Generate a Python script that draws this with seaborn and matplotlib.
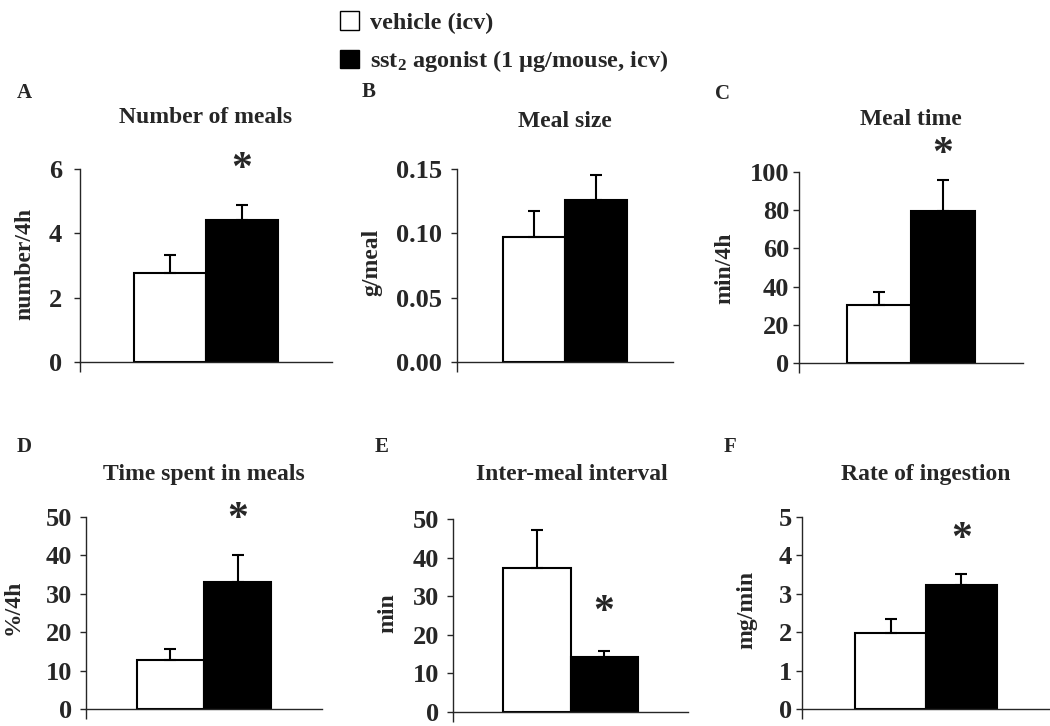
import numpy as np
import pandas as pd
import matplotlib
matplotlib.use("Agg")
import matplotlib.pyplot as plt
import seaborn as sns
from matplotlib.patches import Patch

# datos: media y error estandar (solo hacia arriba)
letters = ["A", "B", "C", "D", "E", "F"]
titles = ["Number of meals", "Meal size", "Meal time",
          "Time spent in meals", "Inter-meal interval", "Rate of ingestion"]
ylabels = ["number/4h", "g/meal", "min/4h", "%/4h", "min", "mg/min"]
groups = ["vehicle (icv)", "sst$_2$ agonist (1 µg/mouse, icv)"]
vehicle_mean = [2.78, 0.097, 30.4, 12.8, 37.4, 1.97]
vehicle_sem = [0.56, 0.020, 6.9, 2.7, 9.7, 0.38]
agonist_mean = [4.41, 0.126, 79.6, 33.2, 14.2, 3.23]
agonist_sem = [0.48, 0.019, 16.4, 6.8, 1.7, 0.29]
y_max = [6, 0.15, 100, 50, 50, 5]
y_step = [2, 0.05, 20, 10, 10, 1]
tick_fmt = ["{:.0f}", "{:.2f}", "{:.0f}", "{:.0f}", "{:.0f}", "{:.0f}"]
star_y = [5.96, None, 108.9, 49.2, 25.7, 4.4]  # asterisco de significancia

# tabla larga para seaborn
rows = []
for i, t in enumerate(titles):
    rows.append({"panel": t, "group": groups[0], "value": vehicle_mean[i], "sem": vehicle_sem[i]})
    rows.append({"panel": t, "group": groups[1], "value": agonist_mean[i], "sem": agonist_sem[i]})
df = pd.DataFrame(rows)

sns.set_style("ticks")
plt.rcParams["font.family"] = ["Liberation Serif", "DejaVu Serif"]
plt.rcParams["font.weight"] = "bold"
plt.rcParams["axes.labelweight"] = "bold"
plt.rcParams["mathtext.fontset"] = "custom"
plt.rcParams["mathtext.rm"] = "Liberation Serif:bold"
plt.rcParams["mathtext.it"] = "Liberation Serif:bold"

W, H = 1050, 726
fig = plt.figure(figsize=(W / 100, H / 100), dpi=100)

# posiciones en pixeles (izq, arriba, der, abajo) de cada panel
boxes = [(80, 169, 332, 362), (457, 169, 673, 362), (799, 172, 1023, 363),
         (86, 517, 322, 709), (453, 519, 688, 712), (802, 517, 1050, 709)]
title_pos = [(206, 123), (565, 127), (911, 125), (204, 480), (572, 480), (926, 480)]
letter_pos = [(17, 98), (362, 97), (715, 99), (17, 452), (375, 452), (724, 452)]
ylabel_pos = [(25, 264), (372, 262), (725, 268), (13, 607), (388, 613), (747, 610)]
tick_pad = [9, 7, 3, 6, 6, 3]

fs = 17
for i, t in enumerate(titles):
    l, tp, r, b = boxes[i]
    ax = fig.add_axes([l / W, 1 - b / H, (r - l) / W, (b - tp) / H])
    sub = df[df["panel"] == t]
    sns.barplot(data=sub, x="panel", y="value", hue="group", hue_order=groups,
                palette=["white", "black"], edgecolor="black", linewidth=1.5,
                errorbar=None, legend=False, ax=ax)
    # barras de error solo hacia arriba
    sems = [vehicle_sem[i], agonist_sem[i]]
    for p, s in zip(ax.patches, sems):
        cx = p.get_x() + p.get_width() / 2
        ax.errorbar(cx, p.get_height(), yerr=[[0], [s]], fmt="none", ecolor="black",
                    elinewidth=1.5, capsize=4, capthick=1.5, zorder=1)
    if star_y[i] is not None:
        p = ax.patches[1]
        ax.text(p.get_x() + p.get_width() / 2, star_y[i], "*", ha="center", va="center",
                fontsize=30, fontweight="bold", clip_on=False)

    ax.set_xlim(-0.7, 0.7)
    ax.set_ylim(0, y_max[i])
    ticks = np.arange(0, y_max[i] + y_step[i] / 2, y_step[i])
    ax.set_yticks(ticks)
    ax.set_yticklabels([tick_fmt[i].format(v) for v in ticks], fontsize=19, fontweight="bold")
    ax.set_xticks([-0.7])
    ax.set_xticklabels([])
    ax.tick_params(axis="x", length=7, width=1, direction="out")
    ax.tick_params(axis="y", length=4, width=1, pad=tick_pad[i])
    ax.set_xlabel("")
    ax.set_ylabel(ylabels[i], fontsize=fs, fontweight="bold", va="center")
    ax.yaxis.set_label_coords(ylabel_pos[i][0] / W, 1 - ylabel_pos[i][1] / H,
                              transform=fig.transFigure)
    sns.despine(ax=ax)
    for s in ax.spines.values():
        s.set_linewidth(1)

    fig.text(title_pos[i][0] / W, 1 - title_pos[i][1] / H, t, ha="center",
             va="baseline", fontsize=fs, fontweight="bold")
    fig.text(letter_pos[i][0] / W, 1 - letter_pos[i][1] / H, letters[i], ha="left",
             va="baseline", fontsize=15, fontweight="bold")

handles = [Patch(facecolor="white", edgecolor="black", linewidth=1),
           Patch(facecolor="black", edgecolor="black", linewidth=1)]
fig.legend(handles=handles, labels=groups, loc="upper left",
           bbox_to_anchor=(340 / W, 1 - 11 / H), frameon=False,
           prop={"family": "Liberation Serif", "weight": "bold", "size": 17.5},
           handlelength=0.8, handleheight=0.8, handletextpad=0.45,
           labelspacing=0.6, borderpad=0, borderaxespad=0)

fig.savefig("out.png", dpi=100)
